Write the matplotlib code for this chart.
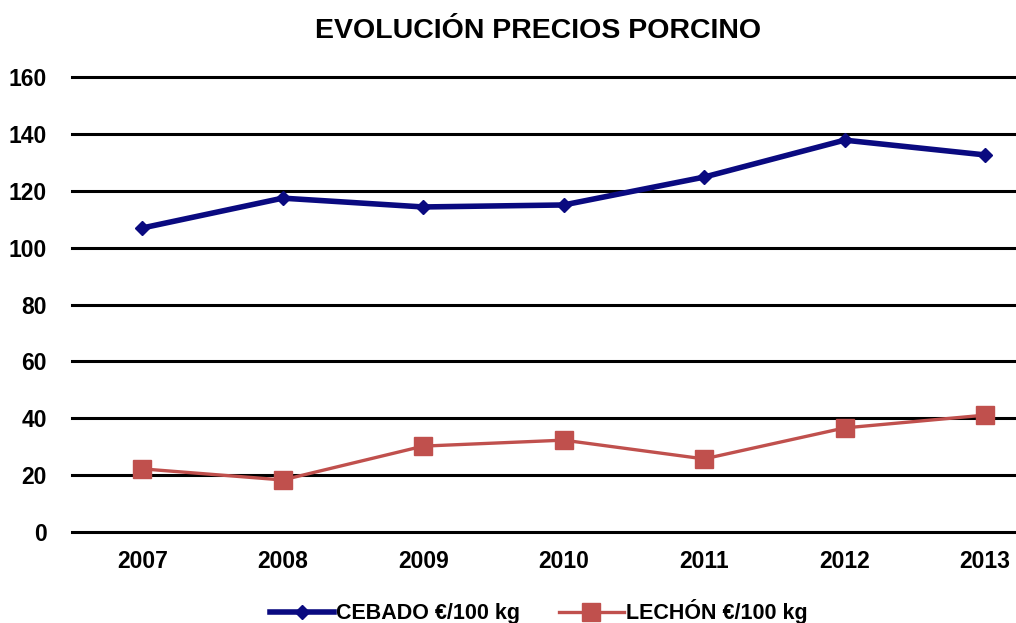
import matplotlib
matplotlib.use("Agg")
import matplotlib.pyplot as plt

years = ["2007", "2008", "2009", "2010", "2011", "2012", "2013"]
cebado = [106.9, 117.4, 114.3, 115.0, 124.8, 137.8, 132.6]
lechon = [22.2, 18.3, 30.2, 32.3, 25.7, 36.6, 41.1]
yticks = [0, 20, 40, 60, 80, 100, 120, 140, 160]

plt.rcParams['font.family'] = ['Liberation Sans', 'DejaVu Sans']
plt.rcParams['font.weight'] = 'bold'

fig = plt.figure(figsize=(10.16, 6.23), dpi=100)
ax = fig.add_axes([72/1016, (623-532)/623, 1 - 72/1016, (532-77)/623])

x = list(range(len(years)))
blue = '#0a0a80'
red = '#c0504d'
ax.plot(x, cebado, color=blue, lw=4, marker='D', ms=7, label='CEBADO €/100 kg', zorder=3)
ax.plot(x, lechon, color=red, lw=2.4, marker='s', ms=13, label='LECHÓN €/100 kg', zorder=3)

ax.set_ylim(0, 160)
ax.set_xlim(-0.5, 6 + (1016 - 985) / 140.5)
ax.set_yticks(yticks)
ax.set_xticks(x)
ax.set_xticklabels(years)
ax.grid(axis='y', color='black', lw=2.2)
for gl in ax.get_ygridlines():
    gl.set_clip_on(False)
ax.set_axisbelow(True)
for s in ax.spines.values():
    s.set_visible(False)
ax.tick_params(axis='both', length=0, labelsize=16.5)
ax.tick_params(axis='y', pad=18)
ax.tick_params(axis='x', pad=13)
for lab in ax.get_xticklabels() + ax.get_yticklabels():
    lab.set_fontweight('bold')

fig.text(0.53, 0.95, 'EVOLUCIÓN PRECIOS PORCINO', ha='center', va='center',
         fontsize=20.5, fontweight='bold')

leg = fig.legend(loc='center', bbox_to_anchor=(0.53, 0.018), ncol=2, frameon=False,
                 fontsize=15.5, handlelength=3.0, columnspacing=1.8, handletextpad=0.1)
for t in leg.get_texts():
    t.set_fontweight('bold')

fig.savefig('out.png', dpi=100)
